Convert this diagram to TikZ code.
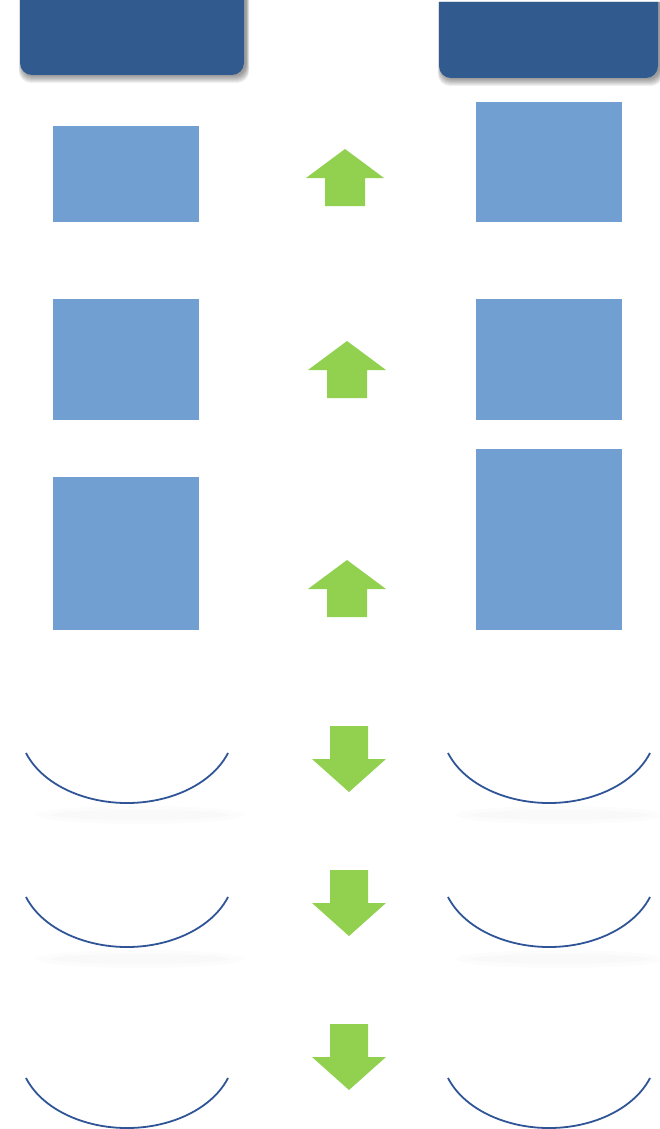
\documentclass[tikz,border=0pt]{standalone}
\usepackage{tikz}
\usetikzlibrary{positioning}

\definecolor{headblue}{HTML}{315A8E}
\definecolor{boxblue}{HTML}{729FD2}
\definecolor{arrowgreen}{HTML}{92D050}
\definecolor{arcblue}{HTML}{2F5597}

\tikzset{
  box/.style={fill=boxblue, minimum width=146pt, inner sep=0pt, anchor=north west},
  arcline/.style={draw=arcblue, line width=1.8pt},
  header/.style={fill=headblue},
}

\begin{document}
\begin{tikzpicture}[x=1pt, y=-1pt]
         \useasboundingbox (0,0) rectangle (659,1129);
         % header shadows
         \foreach \o in {8,7,...,1}{
           \fill[black, opacity=0.06] (20-\o*0.4+2,-12) -- (20-\o*0.4+2,63+\o) arc[start angle=180, end angle=90, radius=12] -- (232+\o*0.4+2,75+\o) arc[start angle=90, end angle=0, radius=12] -- (244+\o*0.4+2,-12) -- cycle;
           \fill[black, opacity=0.06] (439-\o*0.4+2,2) -- (439-\o*0.4+2,66+\o) arc[start angle=180, end angle=90, radius=12] -- (646+\o*0.4+2,78+\o) arc[start angle=90, end angle=0, radius=12] -- (658+\o*0.4+2,2) -- cycle;
         }
         % headers
         \fill[header] (20,-12) -- (20,63) arc[start angle=180, end angle=90, radius=12] -- (232,75) arc[start angle=90, end angle=0, radius=12] -- (244,-12) -- cycle;
         \fill[header] (439,2) -- (439,66) arc[start angle=180, end angle=90, radius=12] -- (646,78) arc[start angle=90, end angle=0, radius=12] -- (658,2) -- cycle;
         % left boxes
         \node[box, minimum height=96pt]  (l1) at (53,126) {};
         \node[box, minimum height=121pt] (l2) at (53,299) {};
         \node[box, minimum height=153pt] (l3) at (53,477) {};
         % right boxes
         \node[box, minimum height=120pt] (r1) at (476,102) {};
         \node[box, minimum height=121pt] (r2) at (476,299) {};
         \node[box, minimum height=181pt] (r3) at (476,449) {};
         % up arrows
         \foreach \ax/\ay in {345/149, 347/341, 347/560}
           \fill[arrowgreen] (\ax,\ay) -- ++(39,29) -- ++(-19,0) -- ++(0,28) -- ++(-40,0) -- ++(0,-28) -- ++(-19,0) -- cycle;
         % down arrows
         \foreach \ax/\ay in {349/792, 349/936, 349/1090}
           \fill[arrowgreen] (\ax,\ay) -- ++(37,-33) -- ++(-18,0) -- ++(0,-33) -- ++(-38,0) -- ++(0,33) -- ++(-18,0) -- cycle;
         % faint shadows under arcs
         \foreach \sx/\sy in {140/815, 140/959, 560/815, 560/959}{
           \fill[black, opacity=0.012] (\sx,\sy) ellipse [x radius=104, y radius=9];
           \fill[black, opacity=0.012] (\sx,\sy) ellipse [x radius=90, y radius=5];
         }
         % arcs
         \foreach \cx in {127,549}
           \foreach \cy in {727,871,1052}
             \draw[arcline] (\cx-101,\cy+26) arc[start angle=160, end angle=20, x radius=107.5, y radius=76];
       \end{tikzpicture}
\end{document}
